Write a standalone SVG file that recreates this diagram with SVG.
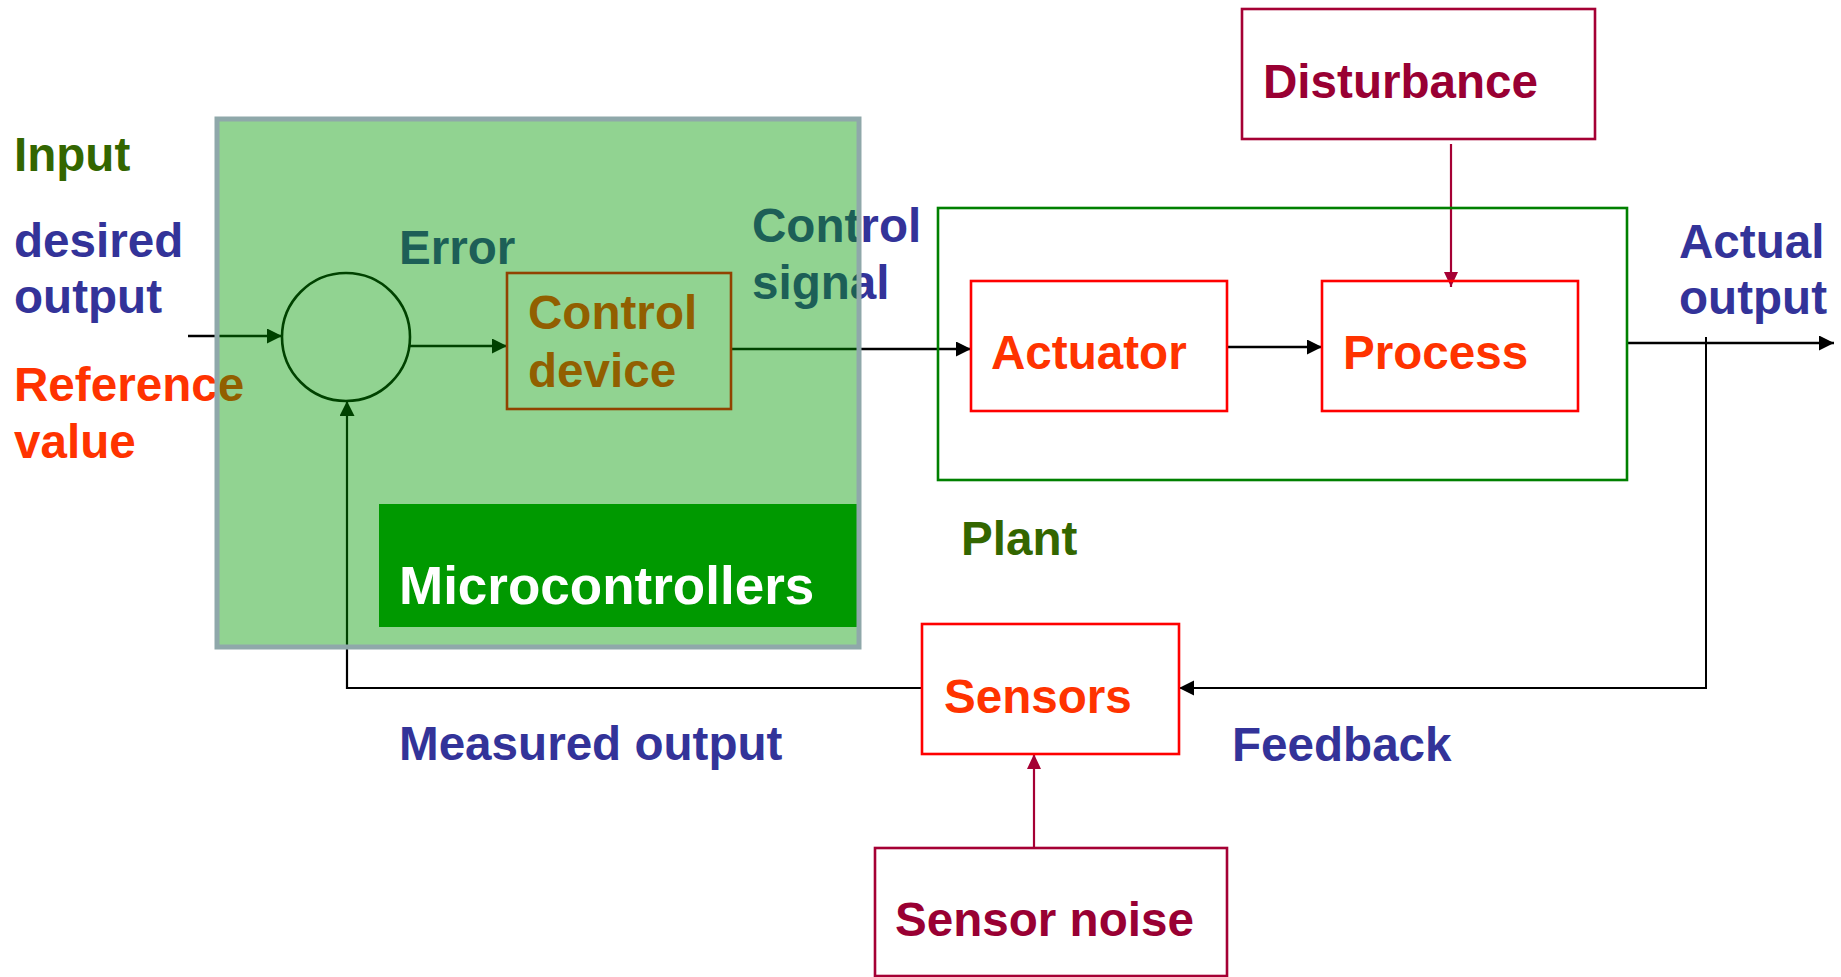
<svg xmlns="http://www.w3.org/2000/svg" width="1841" height="977" viewBox="0 0 1841 977">
<style>
text{font-family:"Liberation Sans",Arial,sans-serif;font-weight:bold;font-size:47.6px}
.blue{fill:#333399}.red{fill:#FF3300}.dred{fill:#990033}.dgreen{fill:#336600}
.conn{fill:none;stroke:#000;stroke-width:2.6}
.dconn{fill:none;stroke:#A50034;stroke-width:2.2}
.rbox{fill:none;stroke:#FF0000;stroke-width:2.6}
.dbox{fill:none;stroke:#A50034;stroke-width:2.6}
</style>
<defs>
<marker id="ah" markerUnits="userSpaceOnUse" markerWidth="16" markerHeight="16" refX="15" refY="7.5" orient="auto"><path d="M0,0 L15,7.5 L0,15 z" fill="#000"/></marker>
<marker id="ahd" markerUnits="userSpaceOnUse" markerWidth="16" markerHeight="16" refX="15" refY="7" orient="auto"><path d="M0,0 L15,7 L0,14 z" fill="#A50034"/></marker>
</defs>
<rect width="1841" height="977" fill="#fff"/>
<g id="connectors">
<path class="conn" d="M188,336 H282" marker-end="url(#ah)"/>
<path class="conn" d="M410,346 H507" marker-end="url(#ah)"/>
<path class="conn" d="M731,349 H971" marker-end="url(#ah)"/>
<path class="conn" d="M1227,347 H1322" marker-end="url(#ah)"/>
<path class="conn" d="M1627,343 H1834" marker-end="url(#ah)"/>
<path class="conn" style="stroke-width:2" d="M1706,337 V688 H1179" marker-end="url(#ah)"/>
<path class="conn" style="stroke-width:2.2" d="M922,688 H347 V401" marker-end="url(#ah)"/>
<path class="dconn" d="M1451,144 V287" marker-end="url(#ahd)"/>
<path class="dconn" d="M1034,848 V754" marker-end="url(#ahd)"/>
</g>
<g id="input-labels">
<text x="14" y="171" class="dgreen">Input</text>
<text x="14" y="257" class="blue">desired</text>
<text x="14" y="313" class="blue">output</text>
<text x="14" y="401" class="red">Reference</text>
<text x="14" y="458" class="red">value</text>
</g>
<g id="summing-junction"><circle cx="346" cy="337" r="64" fill="none" stroke="#000" stroke-width="2.6"/></g>
<g id="error-label"><text x="399" y="264" class="blue">Error</text></g>
<g id="control-device">
<rect class="rbox" x="507" y="273" width="224" height="136"/>
<text x="528" y="329" class="red">Control</text>
<text x="528" y="387" class="red">device</text>
</g>
<g id="control-signal-label">
<text x="752" y="242" class="blue">Control</text>
<text x="752" y="299" class="blue">signal</text>
</g>
<g id="plant">
<rect x="938" y="208" width="689" height="272" fill="none" stroke="#008000" stroke-width="2.6"/>
<text x="961" y="555" class="dgreen">Plant</text>
</g>
<g id="actuator">
<rect class="rbox" x="971" y="281" width="256" height="130"/>
<text x="991" y="369" class="red">Actuator</text>
</g>
<g id="process">
<rect class="rbox" x="1322" y="281" width="256" height="130"/>
<text x="1343" y="369" class="red">Process</text>
</g>
<g id="disturbance">
<rect class="dbox" x="1242" y="9" width="353" height="130"/>
<text x="1263" y="98" class="dred">Disturbance</text>
</g>
<g id="actual-output-label">
<text x="1679" y="258" class="blue">Actual</text>
<text x="1679" y="314" class="blue">output</text>
</g>
<g id="sensors">
<rect class="rbox" x="922" y="624" width="257" height="130"/>
<text x="944" y="713" class="red">Sensors</text>
</g>
<g id="sensor-noise">
<rect class="dbox" x="875" y="848" width="352" height="128"/>
<text x="895" y="936" class="dred">Sensor noise</text>
</g>
<g id="measured-output-label"><text x="399" y="760" class="blue">Measured output</text></g>
<g id="feedback-label"><text x="1232" y="761" class="blue">Feedback</text></g>
<g id="microcontrollers">
<rect x="217" y="119" width="642" height="528" fill="#009900" fill-opacity="0.43"/>
<rect x="379" y="504" width="480" height="123" fill="#009900"/>
<rect x="217" y="119" width="642" height="528" fill="none" stroke="#8FA8AA" stroke-width="5"/>
<text x="399" y="604" style="font-size:53px" fill="#fff">Microcontrollers</text>
</g>
</svg>
